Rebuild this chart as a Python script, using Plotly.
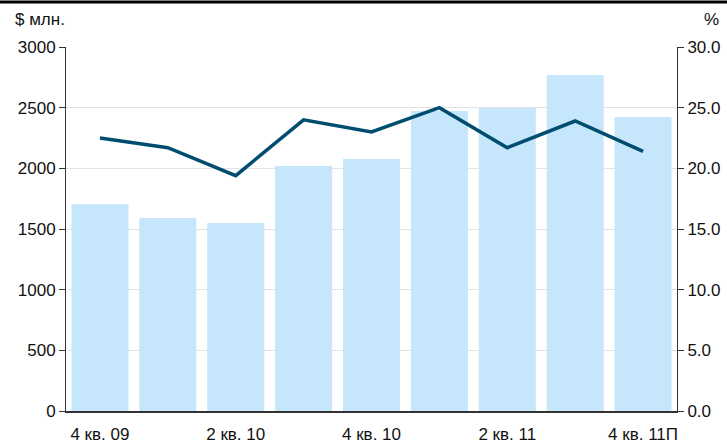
import plotly.graph_objects as go

categories = ["4 кв. 09", "1 кв. 10", "2 кв. 10", "3 кв. 10", "4 кв. 10",
              "1 кв. 11", "2 кв. 11", "3 кв. 11", "4 кв. 11П"]
values_usd = [1705, 1590, 1550, 2020, 2077, 2472, 2497, 2769, 2423]
share_pct = [22.5, 21.7, 19.4, 24.0, 23.0, 25.0, 21.7, 23.9, 21.4]
shown_ticks = ["4 кв. 09", "2 кв. 10", "4 кв. 10", "2 кв. 11", "4 кв. 11П"]
left_ticks = [0, 500, 1000, 1500, 2000, 2500, 3000]
right_ticks = [0, 5, 10, 15, 20, 25, 30]

W, H = 727, 443
L, R, T, B = 66, 50, 47, 32
pw = W - L - R
ph = H - T - B

font = dict(family="Liberation Sans, Arial, sans-serif", size=17, color="#111")

fig = go.Figure()
fig.add_trace(go.Bar(x=categories, y=values_usd, marker=dict(color="#c5e6fb", line=dict(width=0)),
                     yaxis="y", showlegend=False))
fig.add_trace(go.Scatter(x=categories, y=share_pct, mode="lines",
                         line=dict(color="#004d70", width=3.5), yaxis="y2", showlegend=False))

fig.update_layout(
    width=W, height=H, margin=dict(l=L, r=R, t=T, b=B, autoexpand=False),
    paper_bgcolor="white", plot_bgcolor="white",
    bargap=0.16, font=font,
    xaxis=dict(type="category", range=[-0.5, 8.5], tickmode="array", automargin=False,
               tickvals=shown_ticks, ticktext=shown_ticks, showgrid=False,
               showline=True, linecolor="#333", linewidth=2, ticks="", ticklabelstandoff=7),
    yaxis=dict(range=[0, 3000], tickvals=left_ticks, showgrid=True, gridcolor="#e3e3e3",
               gridwidth=1, showline=True, linecolor="#333", linewidth=1, ticks="outside",
               ticklen=6, tickcolor="#333", zeroline=False, tickformat="d", automargin=False),
    yaxis2=dict(range=[0, 30], tickvals=right_ticks, overlaying="y", side="right",
                showgrid=False, showline=True, linecolor="#333", linewidth=1, ticks="outside",
                ticklen=6, tickcolor="#333", zeroline=False, tickformat=".1f", automargin=False),
    annotations=[
        dict(text="$ млн.", xref="paper", yref="paper", x=(13 - L)/pw, y=1.0, yshift=28,
             xanchor="left", yanchor="middle", showarrow=False, font=font),
        dict(text="%", xref="paper", yref="paper", x=(721 - L)/pw, y=1.0, yshift=28,
             xanchor="right", yanchor="middle", showarrow=False, font=font),
    ],
    shapes=[dict(type="line", xref="paper", yref="paper", x0=-L/pw, x1=1 + R/pw,
                 y0=1 + (T - 2)/ph, y1=1 + (T - 2)/ph, line=dict(color="black", width=3))],
)

fig.write_html("out.html", config={"displayModeBar": False},
               post_script="document.body.style.margin='0';document.body.style.overflow='hidden';")
